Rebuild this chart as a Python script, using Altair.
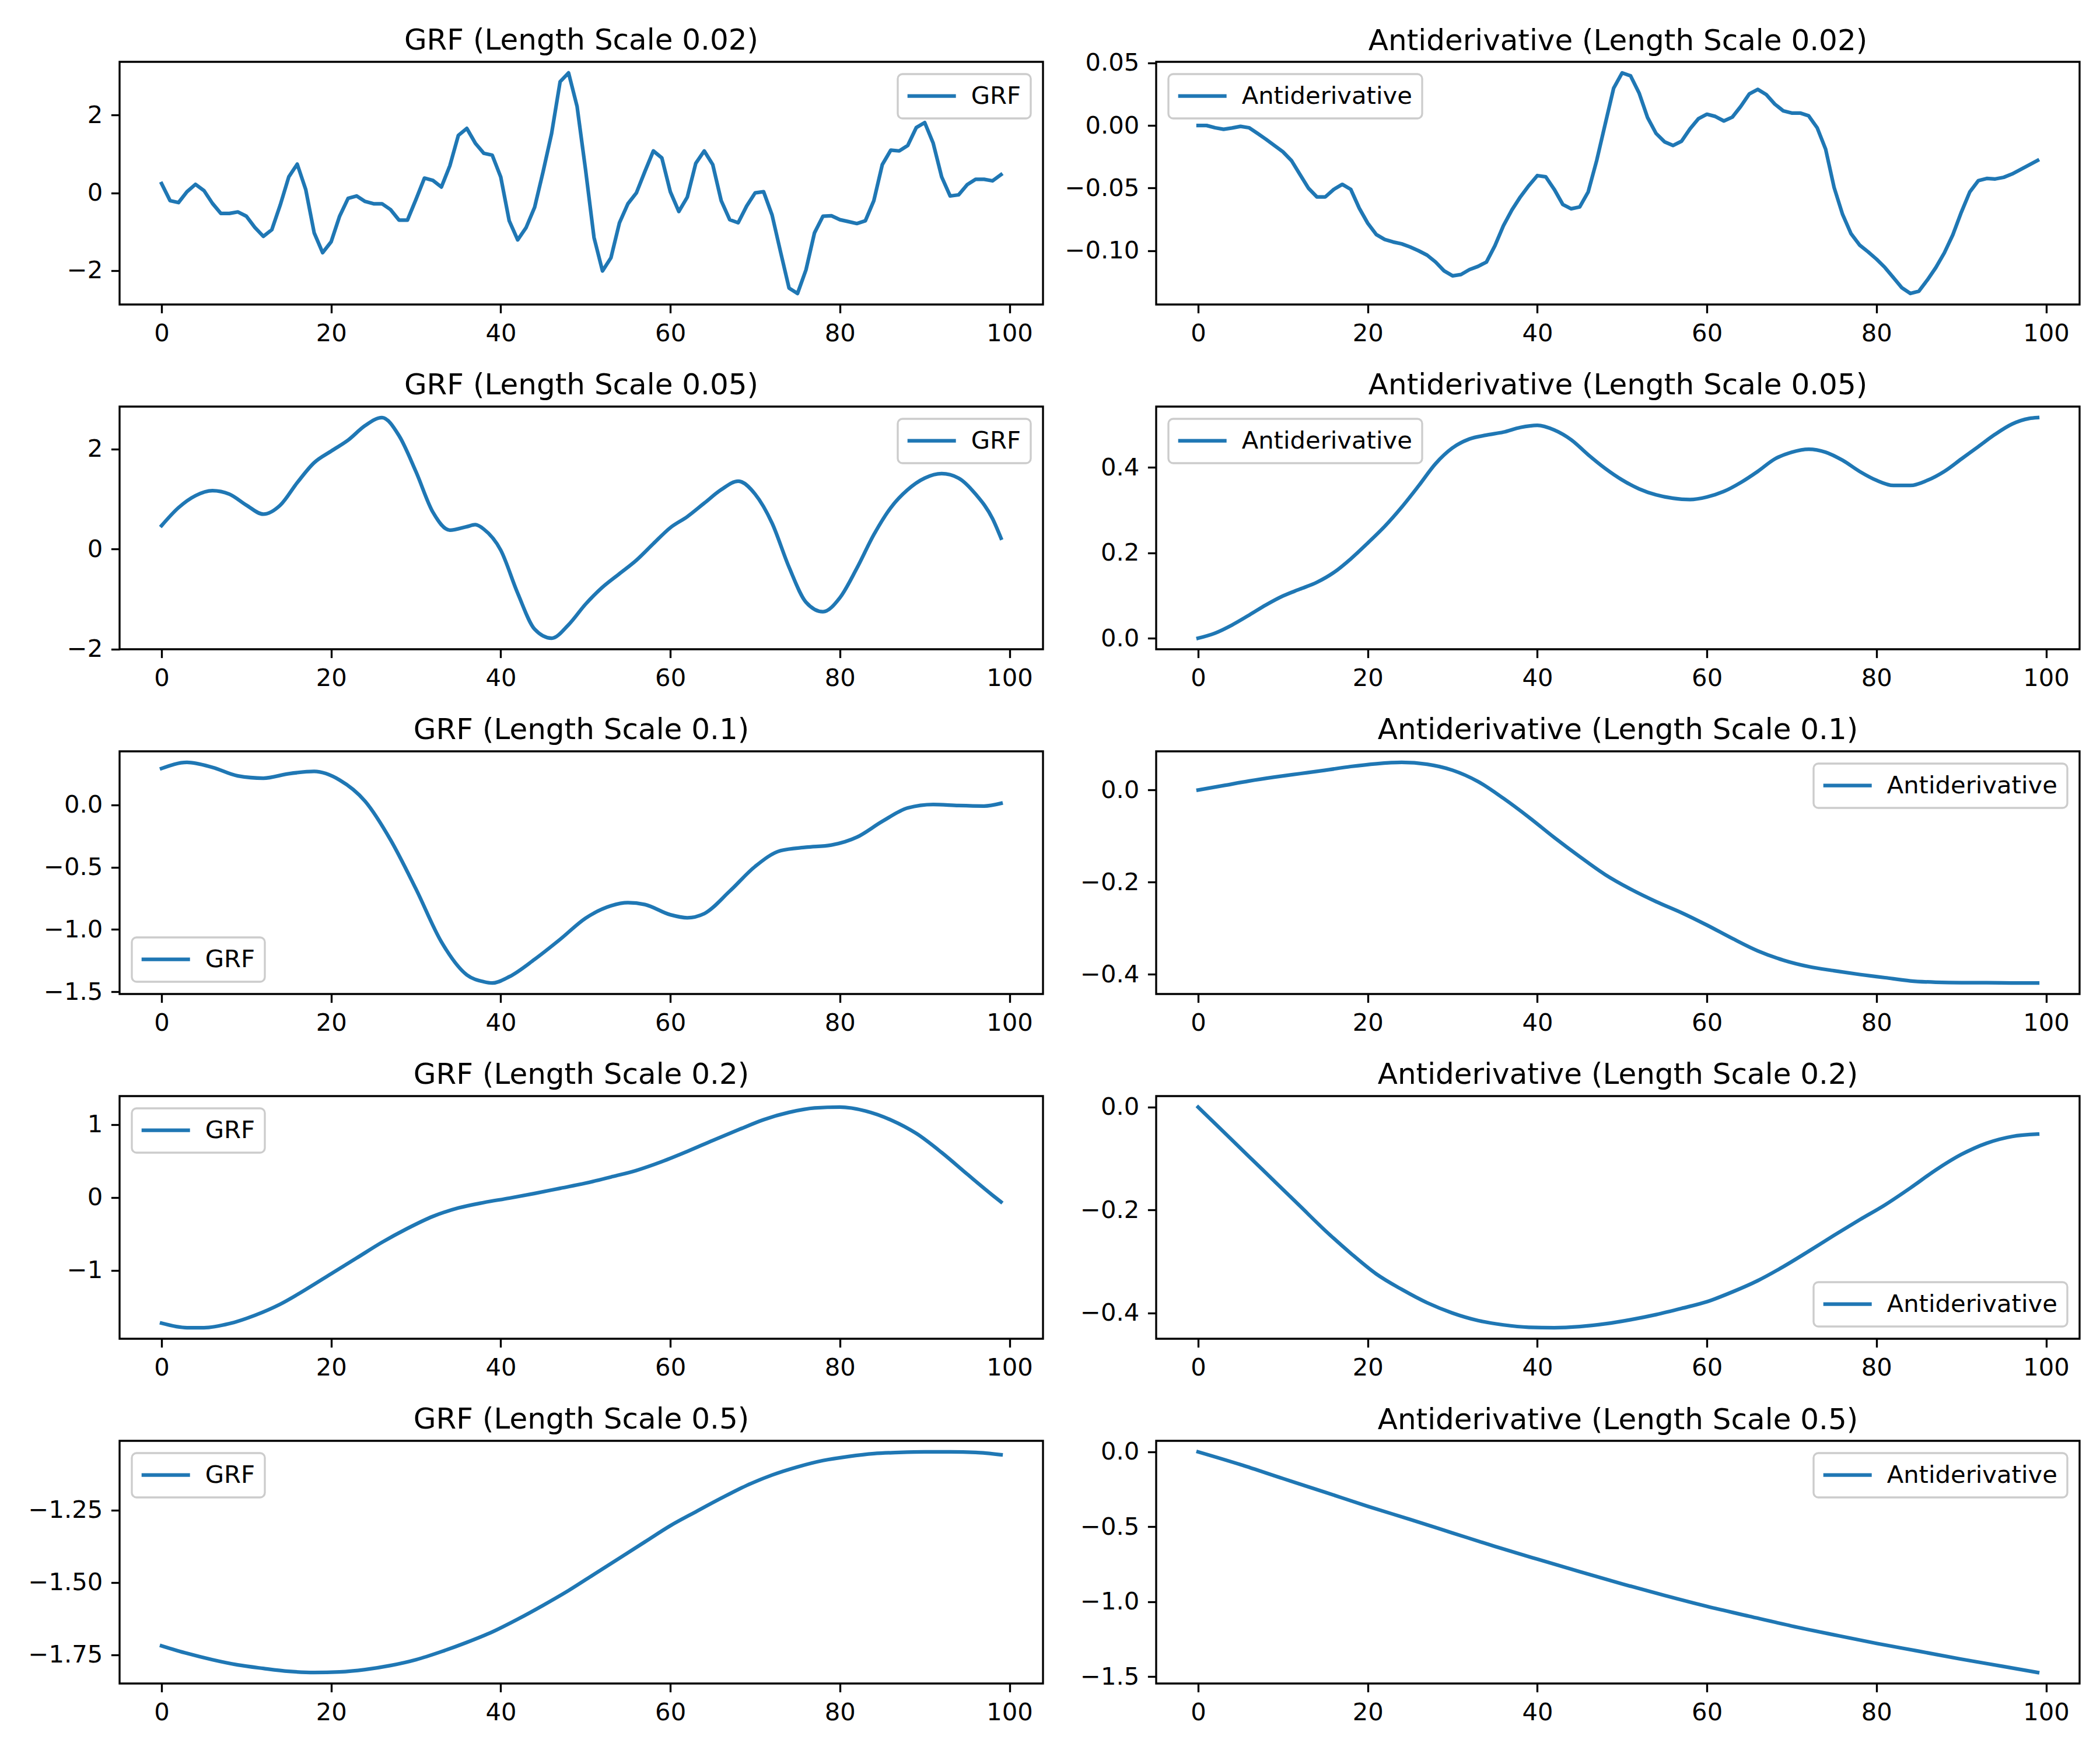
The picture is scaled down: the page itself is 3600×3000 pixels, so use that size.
import altair as alt
import pandas as pd

# ---------------- data ----------------
X_TICKS = [0, 20, 40, 60, 80, 100]
x_dense = list(range(100))

grf_002 = [0.24, -0.2, -0.25, 0.03, 0.22, 0.06, -0.27, -0.53, -0.53, -0.49,
           -0.6, -0.89, -1.12, -0.95, -0.31, 0.41, 0.74, 0.09, -1.03, -1.54,
           -1.26, -0.6, -0.14, -0.08, -0.22, -0.28, -0.28, -0.43, -0.70, -0.70,
           -0.17, 0.38, 0.32, 0.15, 0.70, 1.48, 1.66, 1.28, 1.02, 0.97,
           0.41, -0.72, -1.21, -0.89, -0.37, 0.55, 1.53, 2.86, 3.09, 2.23,
           0.6, -1.15, -2.01, -1.67, -0.77, -0.28, 0.0, 0.55, 1.08, 0.9,
           0.03, -0.48, -0.11, 0.76, 1.08, 0.73, -0.2, -0.69, -0.77, -0.34,
           0.0, 0.03, -0.57, -1.52, -2.45, -2.59, -1.98, -1.03, -0.6, -0.59,
           -0.69, -0.74, -0.79, -0.72, -0.2, 0.73, 1.1, 1.08, 1.22, 1.68,
           1.81, 1.28, 0.41, -0.08, -0.05, 0.21, 0.35, 0.35, 0.31, 0.47]

anti_002 = [0.0, 0.0, -0.0018, -0.003, -0.002, -0.0007, -0.0018, -0.0063, -0.011, -0.016,
            -0.021, -0.028, -0.039, -0.050, -0.057, -0.057, -0.051, -0.047, -0.051, -0.066,
            -0.078, -0.087, -0.091, -0.093, -0.0945, -0.097, -0.100, -0.1035, -0.109, -0.116,
            -0.120, -0.119, -0.115, -0.1125, -0.109, -0.096, -0.080, -0.0675, -0.057, -0.048,
            -0.040, -0.041, -0.051, -0.063, -0.0665, -0.065, -0.053, -0.028, 0.001, 0.0297,
            0.042, 0.0396, 0.026, 0.0063, -0.0063, -0.013, -0.016, -0.0126, -0.0027, 0.0054,
            0.009, 0.0072, 0.0036, 0.0067, 0.0153, 0.0252, 0.0288, 0.0247, 0.0171, 0.0117,
            0.0099, 0.0099, 0.0077, -0.0018, -0.0189, -0.0495, -0.071, -0.0864, -0.0954, -0.1008,
            -0.1067, -0.1134, -0.1215, -0.1296, -0.1341, -0.1323, -0.1233, -0.1134, -0.1017, -0.0873,
            -0.0693, -0.0531, -0.0441, -0.0423, -0.0427, -0.0414, -0.0387, -0.0351, -0.0315, -0.0279]

x_grf_005 = [0, 2, 4, 6, 8, 10, 12, 14, 16, 18, 20, 22, 24, 26, 28, 30, 32, 34, 36, 37, 38,
             40, 42, 44, 46, 48, 50, 52, 54, 56, 58, 60, 62, 64, 66, 68, 70, 72, 74, 76, 78,
             80, 82, 84, 86, 88, 90, 92, 94, 96, 98, 99]
grf_005 = [0.47, 0.83, 1.07, 1.17, 1.10, 0.88, 0.70, 0.88, 1.33, 1.73, 1.96, 2.18, 2.47, 2.63,
           2.27, 1.55, 0.74, 0.38, 0.45, 0.49, 0.40, -0.02, -0.88, -1.60, -1.78, -1.51, -1.10,
           -0.76, -0.49, -0.22, 0.11, 0.43, 0.65, 0.92, 1.19, 1.36, 1.10, 0.52, -0.36, -1.06,
           -1.25, -0.97, -0.38, 0.29, 0.83, 1.19, 1.42, 1.51, 1.42, 1.10, 0.61, 0.22]

x_anti_005 = list(range(0, 100, 2)) + [99]
anti_005 = [0.0, 0.012, 0.031, 0.054, 0.078, 0.099, 0.115, 0.131, 0.154, 0.186,
            0.223, 0.262, 0.307, 0.357, 0.409, 0.446, 0.467, 0.476, 0.483, 0.494,
            0.499, 0.488, 0.465, 0.430, 0.398, 0.371, 0.350, 0.336, 0.328, 0.325,
            0.331, 0.344, 0.365, 0.391, 0.420, 0.436, 0.443, 0.436, 0.417, 0.391,
            0.370, 0.358, 0.358, 0.370, 0.391, 0.420, 0.449, 0.478, 0.502, 0.515, 0.517]

x_grf_01 = [0, 3, 6, 9, 12, 15, 18, 21, 24, 27, 30, 33, 36, 38, 39, 41, 44, 47, 50, 53, 55,
            57, 60, 62, 64, 67, 70, 73, 76, 79, 82, 85, 88, 91, 94, 97, 99]
grf_01 = [0.293, 0.342, 0.302, 0.233, 0.215, 0.251, 0.269, 0.20, 0.03, -0.28, -0.675, -1.10,
          -1.365, -1.42, -1.43, -1.38, -1.24, -1.08, -0.91, -0.81, -0.785, -0.80, -0.882, -0.906,
          -0.873, -0.693, -0.494, -0.367, -0.340, -0.322, -0.259, -0.132, -0.024, 0.004,
          -0.005, -0.009, 0.013]

x_step3 = list(range(0, 100, 3))
anti_01 = [0.0, 0.0097, 0.0195, 0.028, 0.0355, 0.043, 0.051, 0.057, 0.060, 0.056,
           0.043, 0.0185, -0.018, -0.059, -0.103, -0.1445, -0.1835, -0.215, -0.242, -0.266,
           -0.293, -0.322, -0.349, -0.369, -0.383, -0.392, -0.400, -0.407, -0.414, -0.417,
           -0.418, -0.418, -0.4185, -0.4185]

x_grf_02 = [0, 3, 5, 8, 11, 14, 17, 20, 23, 26, 29, 32, 35, 38, 41, 44, 47, 50, 53, 56,
            59, 62, 65, 68, 71, 74, 77, 80, 83, 86, 89, 92, 95, 98, 99]
grf_02 = [-1.723, -1.785, -1.785, -1.729, -1.615, -1.462, -1.262, -1.046, -0.831, -0.615,
          -0.425, -0.26, -0.145, -0.07, -0.01, 0.055, 0.125, 0.195, 0.28, 0.37,
          0.49, 0.63, 0.78, 0.925, 1.065, 1.165, 1.225, 1.237, 1.185, 1.062,
          0.877, 0.615, 0.32, 0.03, -0.062]

anti_02 = [0.0, -0.048, -0.096, -0.144, -0.192, -0.240, -0.284, -0.324, -0.354, -0.380,
           -0.400, -0.4145, -0.423, -0.4276, -0.4285, -0.4263, -0.421, -0.413, -0.403, -0.391,
           -0.378, -0.359, -0.337, -0.310, -0.280, -0.249, -0.219, -0.190, -0.157, -0.122,
           -0.092, -0.070, -0.057, -0.0525]

grf_05 = [-1.719, -1.745, -1.767, -1.785, -1.797, -1.807, -1.811, -1.809, -1.801, -1.787,
          -1.767, -1.739, -1.707, -1.671, -1.627, -1.579, -1.528, -1.472, -1.416, -1.360,
          -1.304, -1.256, -1.209, -1.165, -1.129, -1.101, -1.079, -1.065, -1.055, -1.051,
          -1.049, -1.049, -1.051, -1.059]

x_anti_05 = list(range(0, 100, 5)) + [99]
anti_05 = [0.0, -0.085, -0.178, -0.270, -0.363, -0.451, -0.541, -0.631, -0.716, -0.799,
           -0.881, -0.958, -1.031, -1.097, -1.162, -1.221, -1.278, -1.33, -1.383, -1.432, -1.472]

length_scales = ["0.02", "0.05", "0.1", "0.2", "0.5"]

yticks_grf = [[-2, 0, 2], [-2, 0, 2], [-1.5, -1.0, -0.5, 0.0], [-1, 0, 1], [-1.75, -1.50, -1.25]]
yfmt_grf = ["d", "d", ".1f", "d", ".2f"]
yticks_anti = [[-0.10, -0.05, 0.00, 0.05], [0.0, 0.2, 0.4], [-0.4, -0.2, 0.0], [-0.4, -0.2, 0.0],
               [-1.5, -1.0, -0.5, 0.0]]
yfmt_anti = [".2f", ".1f", ".1f", ".1f", ".1f"]

legend_grf = ["top-right", "top-right", "bottom-left", "top-left", "top-left"]
legend_anti = ["top-left", "top-left", "top-right", "bottom-right", "top-right"]

grf_x = [x_dense, x_grf_005, x_grf_01, x_grf_02, x_step3]
grf_y = [grf_002, grf_005, grf_01, grf_02, grf_05]
anti_x = [x_dense, x_anti_005, x_step3, x_step3, x_anti_05]
anti_y = [anti_002, anti_005, anti_01, anti_02, anti_05]
interp = ["linear", "monotone", "monotone", "monotone", "monotone"]

# title offsets: Vega measures from the axis bounds, so a y label that pokes
# above the plot top pushes the title up; compensate per panel
title_off_grf = [11, 11, 11, 11, 11]
title_off_anti = [-8, 11, 11, 10, 9]

# ---------------- styling ----------------
BLUE = "#1f77b4"
FONT = "DejaVu Sans"
PANEL_W = 1583
PANEL_H = 416


def panel(xs, ys, name, title, ticks, fmt, orient, interpolation, toff):
    df = pd.DataFrame({"x": xs, "y": ys, "series": [name] * len(xs)})
    lo, hi = min(ys), max(ys)
    m = 0.05 * (hi - lo)
    return alt.Chart(df).mark_line(
        strokeWidth=6.25, interpolate=interpolation, strokeCap="square", strokeJoin="round"
    ).encode(
        x=alt.X("x:Q", scale=alt.Scale(domain=[-4.95, 103.95], nice=False, zero=False),
                axis=alt.Axis(values=X_TICKS, format="d", title=None)),
        y=alt.Y("y:Q", scale=alt.Scale(domain=[lo - m, hi + m], nice=False, zero=False),
                axis=alt.Axis(values=ticks, format=fmt, title=None)),
        color=alt.Color("series:N", scale=alt.Scale(domain=[name], range=[BLUE]),
                        legend=alt.Legend(title=None, orient=orient)),
    ).properties(width=PANEL_W, height=PANEL_H, title=alt.TitleParams(text=title, offset=toff))


panels = []
for i, ls in enumerate(length_scales):
    panels.append(panel(grf_x[i], grf_y[i], "GRF", f"GRF (Length Scale {ls})",
                        yticks_grf[i], yfmt_grf[i], legend_grf[i], interp[i], title_off_grf[i]))
    panels.append(panel(anti_x[i], anti_y[i], "Antiderivative", f"Antiderivative (Length Scale {ls})",
                        yticks_anti[i], yfmt_anti[i], legend_anti[i], interp[i], title_off_anti[i]))

chart = alt.ConcatChart(
    concat=panels, columns=2, spacing={"row": 175, "column": 194}, bounds="flush"
).resolve_scale(
    x="independent", y="independent", color="independent"
).resolve_legend(
    color="independent"
).properties(
    padding={"left": 38, "top": 35, "right": 10, "bottom": 10},
    background="white",
).configure_view(
    stroke="black", strokeWidth=3.33
).configure_axis(
    labelFont=FONT, labelFontSize=41.7, labelColor="black", tickColor="black",
    tickSize=14.6, tickWidth=3.33, labelPadding=14.6, domain=False, grid=False,
    labelFlush=False,
).configure_title(
    font=FONT, fontSize=50, fontWeight="normal", color="black",
    baseline="alphabetic", anchor="middle", frame="group",
).configure_legend(
    labelFont=FONT, labelFontSize=41.7, labelColor="black", strokeColor="#cccccc",
    fillColor="rgba(255,255,255,0.8)", cornerRadius=8, padding=16.7, labelLimit=1000,
    symbolType="M-2.5,0L2.5,0", symbolSize=1102, symbolStrokeWidth=6.25,
    symbolOffset=20.65, labelOffset=46.6, offset=20.8, strokeWidth=3.33,
)

chart.save("out.html", embed_options={"renderer": "svg", "actions": False})
